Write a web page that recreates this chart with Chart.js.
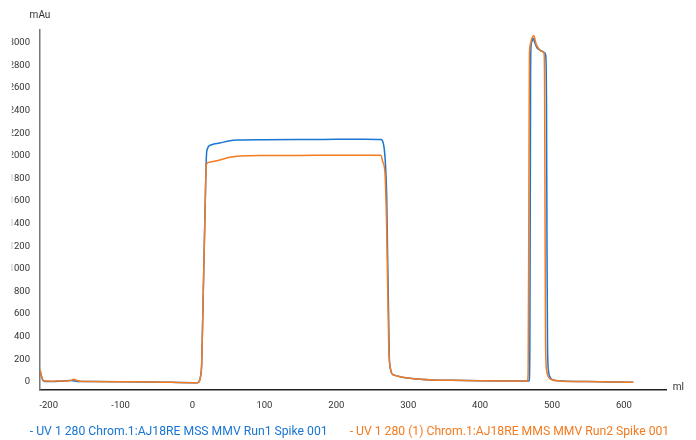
<!DOCTYPE html>
<html>
<head>
<meta charset="utf-8">
<script src="https://cdn.jsdelivr.net/npm/chart.js@4"></script>
<style>
  html, body { margin: 0; padding: 0; background: #fff; }
  #wrap { width: 696px; height: 440px; position: relative; }
</style>
</head>
<body>
<div id="wrap"><canvas id="chrom" width="696" height="440"></canvas></div>
<script>
// Axis tick values
const xTicks = [-200, -100, 0, 100, 200, 300, 400, 500, 600];
const yTicks = [0, 200, 400, 600, 800, 1000, 1200, 1400, 1600, 1800, 2000, 2200, 2400, 2600, 2800, 3000];

// Series names
const seriesNames = [
  'UV 1 280 Chrom.1:AJ18RE MSS MMV Run1 Spike 001',
  'UV 1 280 (1) Chrom.1:AJ18RE MMS MMV Run2 Spike 001'
];

// Run 1: elution volume (ml) and UV 280 absorbance (mAu)
const run1Volume = [-212, -210, -208, -205, -195, -185, -176, -170, -164, -158, -140, -100, -60, -30, 0, 7, 9.5, 11, 12.8, 15, 17, 18.8, 19.6, 21, 22, 26.7, 38, 52, 66, 100, 150, 200, 240, 262, 265.4, 267.7, 270.1, 273.7, 275.5, 277, 282, 288.7, 300, 316.5, 334, 360, 400, 440, 466, 468.2, 469.2, 470.2, 470.8, 472, 474, 476, 479.6, 485.7, 489.3, 491.2, 492.3, 493, 493.8, 495, 497, 502, 510, 520, 540, 567, 590, 613];
const run1Uv     = [105, 45, 12, 2, 1, 4, 9, 10, 6, 2, 1, 0, -2, -5, -8, -9, 5, 40, 163, 800, 1380, 1903, 2024, 2065, 2080, 2097, 2112, 2133, 2139, 2142, 2144, 2145, 2146, 2143, 2110, 1991, 1637, 221, 110, 74, 56, 44, 32, 21, 15, 12, 9, 7, 6, 8, 300, 2700, 2965, 3010, 3039, 3000, 2950, 2927, 2915, 2891, 2500, 1200, 300, 100, 44, 15, 8, 4, 2, 0, -3, -5];

// Run 2: elution volume (ml) and UV 280 absorbance (mAu)
const run2Volume = [-212, -210, -208, -205, -195, -185, -175, -169, -165, -161, -156, -140, -100, -60, -30, 0, 7, 9.5, 11, 12.8, 15, 17, 18.8, 19.5, 21, 26.4, 38, 52, 66, 100, 150, 200, 240, 262, 264.5, 267.7, 270.1, 272.9, 275.7, 277.5, 282, 288.7, 300, 316.5, 334, 360, 400, 440, 465.7, 466.8, 467.8, 468.6, 470, 471.5, 474.7, 477.9, 482.4, 487, 488.9, 489.6, 490.3, 491, 492.5, 495, 500, 510, 520, 540, 567, 590, 613];
const run2Uv     = [103, 50, 15, 6, 5, 6, 7, 12, 22, 12, 4, 2, 0, -2, -5, -8, -9, 5, 40, 163, 800, 1380, 1880, 1925, 1938, 1947, 1962, 1986, 1997, 2002, 2003, 2004, 2004, 2005, 1947, 1844, 1342, 310, 104, 72, 55, 44, 32, 21, 15, 12, 9, 7, 6, 80, 1600, 2903, 2990, 3030, 3062, 2988, 2941, 2920, 2906, 2700, 1500, 350, 100, 42, 18, 8, 3, 2, 0, -3, -5];

const seriesColors = ['#1976d2', '#f47b20'];
const textColor = '#333';
const fontFamily = 'Roboto, "Liberation Sans", sans-serif';

function toPoints(xs, ys) {
  return xs.map((x, i) => ({ x: x, y: ys[i] }));
}

// Axis captions, legend text and the white left margin
const decorations = {
  id: 'decorations',
  afterDraw(chart) {
    const ctx = chart.ctx;
    const area = chart.chartArea;
    ctx.save();
    // left margin covers the overflow of the value labels
    ctx.fillStyle = '#fff';
    ctx.fillRect(0, 20, 11.8, 385);

    ctx.fillStyle = textColor;
    ctx.font = '10px ' + fontFamily;
    ctx.textBaseline = 'middle';
    ctx.textAlign = 'center';
    ctx.fillText('mAu', area.left, 15);
    ctx.textAlign = 'left';
    ctx.fillText('ml', area.right + 6, area.bottom - 2);

    // legend row
    ctx.font = '12.2px ' + fontFamily;
    const labels = chart.data.datasets.map(d => '- ' + d.label);
    const widths = labels.map(t => ctx.measureText(t).width);
    const gap = 22;
    const total = widths[0] + gap + widths[1];
    let x = 349.5 - total / 2;
    labels.forEach((t, i) => {
      ctx.fillStyle = chart.data.datasets[i].borderColor;
      ctx.fillText(t, x, 431.5);
      x += widths[i] + gap;
    });
    ctx.restore();
  }
};

new Chart(document.getElementById('chrom'), {
  type: 'scatter',
  data: {
    datasets: [
      {
        label: seriesNames[0],
        data: toPoints(run1Volume, run1Uv),
        borderColor: seriesColors[0],
        backgroundColor: seriesColors[0],
        order: 1
      },
      {
        label: seriesNames[1],
        data: toPoints(run2Volume, run2Uv),
        borderColor: seriesColors[1],
        backgroundColor: seriesColors[1],
        order: 0
      }
    ]
  },
  options: {
    responsive: false,
    animation: false,
    devicePixelRatio: 1,
    showLine: true,
    elements: {
      point: { radius: 0, hoverRadius: 0 },
      line: { borderWidth: 1.5, cubicInterpolationMode: 'monotone', fill: false }
    },
    layout: { padding: { left: 0, top: 30, right: 29.3, bottom: 20.7 } },
    plugins: {
      legend: { display: false },
      tooltip: { enabled: false }
    },
    scales: {
      x: {
        type: 'linear',
        min: -212.1,
        max: 659.5,
        afterBuildTicks: s => { s.ticks = xTicks.map(v => ({ value: v })); },
        afterFit: s => { s.height = 30; },
        grid: { display: false, drawTicks: false },
        border: { display: true, color: '#222', width: 1.5 },
        ticks: {
          padding: 11,
          color: textColor,
          autoSkip: false,
          maxRotation: 0,
          font: { family: fontFamily, size: 9.5 },
          callback: v => String(v)
        }
      },
      y: {
        type: 'linear',
        min: -67,
        max: 3113,
        afterBuildTicks: s => { s.ticks = yTicks.map(v => ({ value: v })); },
        afterFit: s => { s.width = 40; },
        grid: { display: false, drawTicks: false },
        border: { display: true, color: '#777', width: 1.5 },
        ticks: {
          padding: 10,
          color: textColor,
          autoSkip: false,
          font: { family: fontFamily, size: 9.5 },
          callback: v => String(v)
        }
      }
    }
  },
  plugins: [decorations]
});
</script>
</body>
</html>
